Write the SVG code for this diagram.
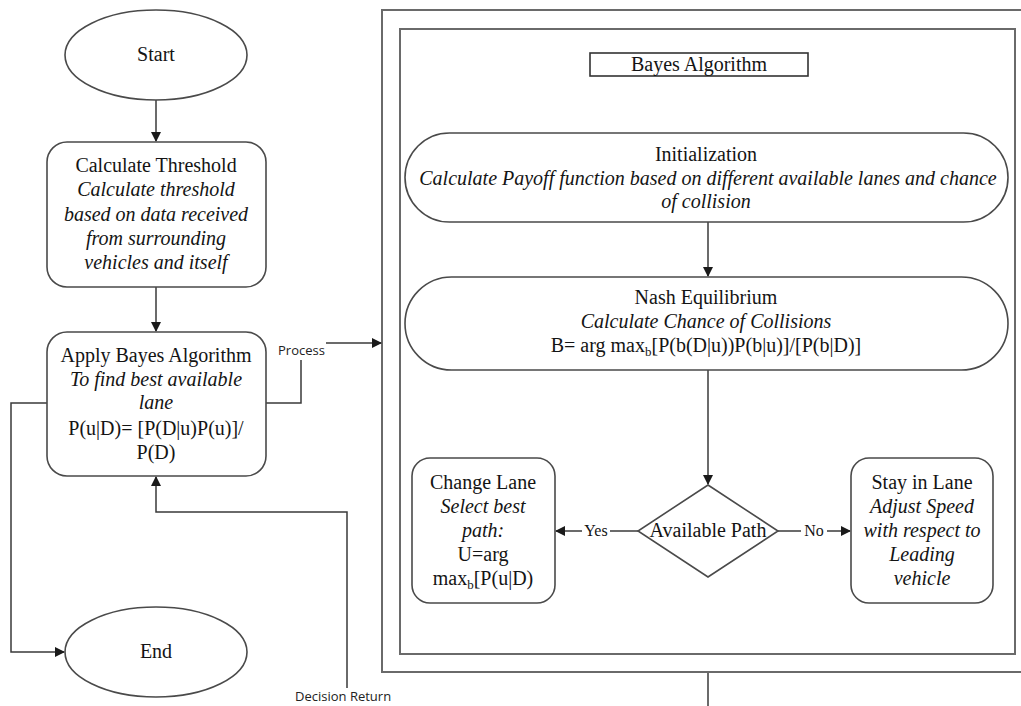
<svg xmlns="http://www.w3.org/2000/svg" width="1021" height="706" viewBox="0 0 1021 706">
<defs>
<style>
.s{fill:#fff;stroke:#4a4a4a;stroke-width:1.6}
.f{fill:none;stroke:#6a6a6a;stroke-width:2}
.c{fill:none;stroke:#3a3a3a;stroke-width:1.5}
.t{font-family:"Liberation Serif","Times New Roman",serif;font-size:20px;fill:#141414;text-anchor:middle}
.i{font-style:italic}
.l{font-family:"Open Sans","Liberation Sans",sans-serif;font-size:13px;fill:#222}
.y{font-family:"Liberation Serif",serif;font-size:16px;fill:#141414;text-anchor:middle}
</style>
<marker id="a" markerWidth="10" markerHeight="10" refX="9" refY="5" orient="auto" markerUnits="userSpaceOnUse">
<path d="M0,0 L10,5 L0,10 z" fill="#1a1a1a"/>
</marker>
</defs>
<rect width="1021" height="706" fill="#fff"/>

<g id="frame-outer"><path class="f" d="M1030,10 H382 V672 H1030"/></g>
<g id="frame-inner"><rect class="f" x="400" y="29" width="615" height="625"/></g>

<g id="connectors">
<line class="c" x1="156" y1="100" x2="156" y2="141" marker-end="url(#a)"/>
<line class="c" x1="156" y1="287" x2="156" y2="331" marker-end="url(#a)"/>
<path class="c" d="M266,403 H301 V360"/>
<line class="c" x1="326" y1="343" x2="381" y2="343" marker-end="url(#a)"/>
<path class="c" d="M47,403 H11 V652 H64" marker-end="url(#a)"/>
<path class="c" d="M347,688 V512 H156 V477" marker-end="url(#a)"/>
<line class="c" x1="708" y1="222" x2="708" y2="276" marker-end="url(#a)"/>
<line class="c" x1="708" y1="370" x2="708" y2="484" marker-end="url(#a)"/>
<line class="c" x1="638" y1="531" x2="556" y2="531" marker-end="url(#a)"/>
<line class="c" x1="778" y1="531" x2="850" y2="531" marker-end="url(#a)"/>
<line class="c" x1="708" y1="673" x2="708" y2="706"/>
<rect x="582" y="521" width="28" height="18" fill="#fff"/>
<rect x="801" y="521" width="26" height="18" fill="#fff"/>
<text class="y" x="596" y="536">Yes</text>
<text class="y" x="814" y="536">No</text>
<text class="l" x="278" y="355">Process</text>
<text class="l" x="295" y="701">Decision Return</text>
</g>

<g id="start">
<ellipse class="s" cx="156" cy="55" rx="91" ry="45"/>
<text class="t" x="156" y="61">Start</text>
</g>

<g id="calc-threshold">
<rect class="s" x="47" y="142" width="219" height="145" rx="20"/>
<text class="t" x="156" y="172">Calculate Threshold</text>
<text class="t i" x="156" y="196">Calculate threshold</text>
<text class="t i" x="156" y="221">based on data received</text>
<text class="t i" x="156" y="245">from surrounding</text>
<text class="t i" x="156" y="269">vehicles and itself</text>
</g>

<g id="apply-bayes">
<rect class="s" x="47" y="332" width="219" height="144" rx="20"/>
<text class="t" x="156" y="362">Apply Bayes Algorithm</text>
<text class="t i" x="156" y="386">To find best available</text>
<text class="t i" x="156" y="409">lane</text>
<text class="t" x="156" y="435">P(u|D)= [P(D|u)P(u)]/</text>
<text class="t" x="156" y="459">P(D)</text>
</g>

<g id="end">
<ellipse class="s" cx="156" cy="652" rx="91" ry="45"/>
<text class="t" x="156" y="658">End</text>
</g>

<g id="bayes-title">
<rect x="590" y="53" width="218" height="23" fill="#fff" stroke="#333" stroke-width="1.6"/>
<text class="t" x="699" y="71">Bayes Algorithm</text>
</g>

<g id="initialization">
<rect class="s" x="405" y="133" width="603" height="89" rx="44.5"/>
<text class="t" x="706" y="161">Initialization</text>
<text class="t i" x="708" y="185">Calculate Payoff function based on different available lanes and chance</text>
<text class="t i" x="706" y="208">of collision</text>
</g>

<g id="nash">
<rect class="s" x="405" y="277" width="603" height="93" rx="46.5"/>
<text class="t" x="706" y="304">Nash Equilibrium</text>
<text class="t i" x="706" y="328">Calculate Chance of Collisions</text>
<text class="t" x="706" y="352">B= arg max<tspan font-size="13" dy="4">b</tspan><tspan dy="-4">[P(b(D|u))P(b|u)]/[P(b|D)]</tspan></text>
</g>

<g id="available-path">
<polygon class="s" points="708,485 778,531 708,577 638,531"/>
<text class="t" x="708" y="537">Available Path</text>
</g>

<g id="change-lane">
<rect class="s" x="412" y="458" width="143" height="145" rx="18"/>
<text class="t" x="483" y="489">Change Lane</text>
<text class="t i" x="483" y="513">Select best</text>
<text class="t i" x="483" y="537">path:</text>
<text class="t" x="483" y="561">U=arg</text>
<text class="t" x="483" y="585">max<tspan font-size="13" dy="4">b</tspan><tspan dy="-4">[P(u|D)</tspan></text>
</g>

<g id="stay-lane">
<rect class="s" x="851" y="458" width="142" height="145" rx="18"/>
<text class="t" x="922" y="489">Stay in Lane</text>
<text class="t i" x="922" y="513">Adjust Speed</text>
<text class="t i" x="922" y="537">with respect to</text>
<text class="t i" x="922" y="561">Leading</text>
<text class="t i" x="922" y="585">vehicle</text>
</g>
</svg>
